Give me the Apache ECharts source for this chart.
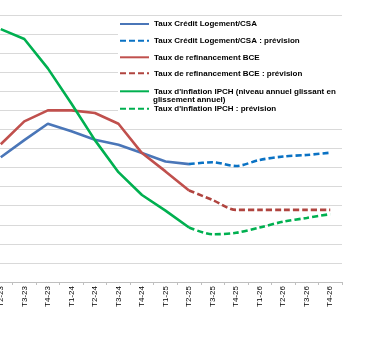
<!DOCTYPE html>
<html>
<head>
<meta charset="utf-8">
<script src="https://cdn.jsdelivr.net/npm/echarts@6/dist/echarts.min.js"></script>
<style>
html,body{margin:0;padding:0;background:#fff;overflow:hidden;}
#chart{width:386px;height:337px;margin-left:-11px;}
</style>
</head>
<body>
<div id="chart"></div>
<script>
const categories = ['T2-23','T3-23','T4-23','T1-24','T2-24','T3-24','T4-24','T1-25','T2-25','T3-25','T4-25','T1-26','T2-26','T3-26','T4-26'];
const creditLogement     = [3.27, 3.72, 4.15, 3.95, 3.73, 3.60, 3.38, 3.16, 3.09, null, null, null, null, null, null];
const creditLogementPrev = [null, null, null, null, null, null, null, null, 3.09, 3.14, 3.04, 3.20, 3.29, 3.33, 3.39];
const bce                = [3.61, 4.21, 4.50, 4.50, 4.43, 4.15, 3.38, 2.90, 2.40, null, null, null, null, null, null];
const bcePrev            = [null, null, null, null, null, null, null, null, 2.40, 2.15, 1.89, 1.89, 1.89, 1.89, 1.89];
const ipch               = [6.63, 6.37, 5.60, 4.68, 3.72, 2.88, 2.28, 1.87, 1.43, null, null, null, null, null, null];
const ipchPrev           = [null, null, null, null, null, null, null, null, 1.43, 1.25, 1.29, 1.43, 1.58, 1.68, 1.78];
const yTicks = {min: 0, max: 7, interval: 0.5};

const names = [
  'Taux Crédit Logement/CSA',
  'Taux Crédit Logement/CSA : prévision',
  'Taux de refinancement BCE',
  'Taux de refinancement BCE : prévision',
  "Taux d'inflation IPCH (niveau annuel glissant en glissement annuel)",
  "Taux d'inflation IPCH : prévision"
];
const wrapLine1 = "Taux d'inflation IPCH (niveau annuel glissant en";
const wrapLine2 = 'glissement annuel)';
const colors = ['#4A76B8', '#0A72C4', '#C0504D', '#B0443F', '#00B050', '#00B050'];
const dataSets = [creditLogement, creditLogementPrev, bce, bcePrev, ipch, ipchPrev];
const dashed = [false, true, false, true, false, true];
const legendCenters = [24, 40.7, 57.3, 73.3, 91.3, 108.7];

const FONT = 'Liberation Sans, Arial, sans-serif';

const series = dataSets.map((d, i) => ({
  name: names[i],
  type: 'line',
  data: d,
  symbol: 'none',
  smooth: dashed[i] ? 0.3 : false,
  connectNulls: false,
  color: colors[i],
  lineStyle: {width: 2.6, color: colors[i], type: dashed[i] ? [6, 3] : 'solid', cap: 'butt'},
  z: 2
}));

const legends = names.map((n, i) => ({
  data: [n],
  orient: 'vertical',
  left: 130,
  top: legendCenters[i] - 4.5,
  padding: 0,
  itemWidth: 29,
  itemHeight: 9,
  selectedMode: false,
  z: 5,
  itemStyle: {opacity: 0},
  formatter: (name) => name === names[4] ? wrapLine1 : name,
  textStyle: {fontFamily: FONT, fontSize: 8, fontWeight: 'bold', color: '#000', lineHeight: 9}
}));

const chart = echarts.init(document.getElementById('chart'), null, {renderer: 'canvas'});
chart.setOption({
  animation: false,
  backgroundColor: '#fff',
  grid: {left: 0, right: 33, top: 15, bottom: 55, containLabel: false},
  xAxis: {
    type: 'category',
    data: categories,
    boundaryGap: true,
    axisLine: {lineStyle: {color: '#BFBFBF', width: 1}},
    axisTick: {show: true, alignWithLabel: false, length: 3, lineStyle: {color: '#BFBFBF'}},
    axisLabel: {rotate: 90, margin: 4, interval: 0, fontFamily: FONT, fontSize: 8, color: '#000'}
  },
  yAxis: {
    type: 'value',
    min: yTicks.min,
    max: yTicks.max,
    interval: yTicks.interval,
    axisLine: {show: false},
    axisTick: {show: false},
    axisLabel: {show: false},
    splitLine: {lineStyle: {color: '#D9D9D9', width: 1}}
  },
  legend: legends,
  graphic: {
    elements: [
      {type: 'rect', z: 4, shape: {x: 129, y: 17, width: 230, height: 97}, style: {fill: '#fff'}},
      {type: 'text', z: 6, x: 164, y: 100,
       style: {text: wrapLine2, font: 'bold 8px ' + FONT, fill: '#000', verticalAlign: 'middle', align: 'left'}}
    ]
  },
  series: series
});
</script>
</body>
</html>
